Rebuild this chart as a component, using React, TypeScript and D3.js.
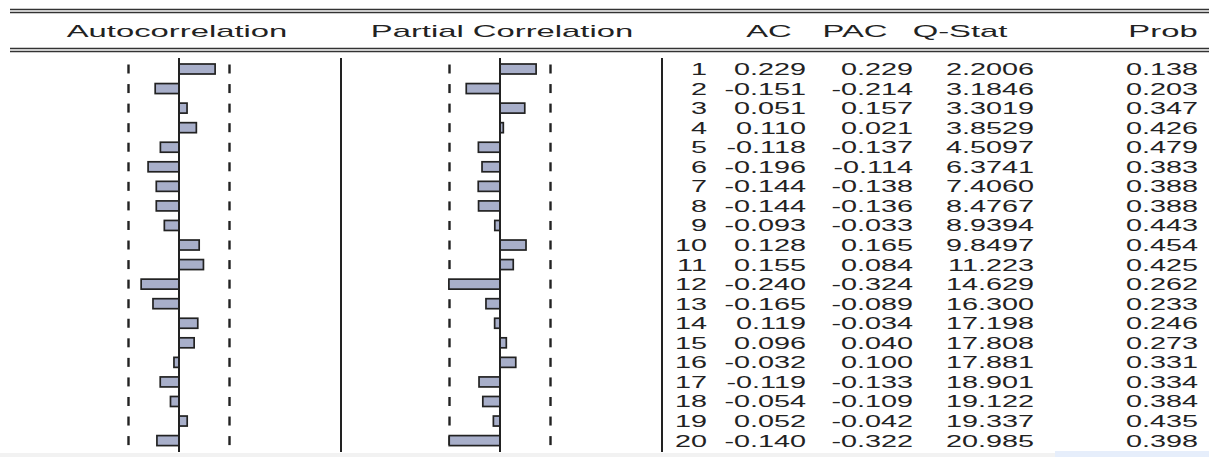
import React from "react";
import * as d3 from "d3";

// Correlogram of residuals: 20 lags, 39 observations
const lags = [1, 2, 3, 4, 5, 6, 7, 8, 9, 10, 11, 12, 13, 14, 15, 16, 17, 18, 19, 20];
const acValues = [0.229, -0.151, 0.051, 0.110, -0.118, -0.196, -0.144, -0.144, -0.093, 0.128, 0.155, -0.240, -0.165, 0.119, 0.096, -0.032, -0.119, -0.054, 0.052, -0.140];
const pacValues = [0.229, -0.214, 0.157, 0.021, -0.137, -0.114, -0.138, -0.136, -0.033, 0.165, 0.084, -0.324, -0.089, -0.034, 0.040, 0.100, -0.133, -0.109, -0.042, -0.322];
const qStatValues = [2.2006, 3.1846, 3.3019, 3.8529, 4.5097, 6.3741, 7.4060, 8.4767, 8.9394, 9.8497, 11.223, 14.629, 16.300, 17.198, 17.808, 17.881, 18.901, 19.122, 19.337, 20.985];
const probValues = [0.138, 0.203, 0.347, 0.426, 0.479, 0.383, 0.388, 0.388, 0.443, 0.454, 0.425, 0.262, 0.233, 0.246, 0.273, 0.331, 0.334, 0.384, 0.435, 0.398];
const nObs = 39;

const W = 1209;
const H = 457;
const FONT = "'Liberation Sans', Arial, sans-serif";
const INK = "#222";
const BAR_FILL = "#a8afca";

const band = 2 / Math.sqrt(nObs);

const yRow = d3.scaleLinear().domain([1, 20]).range([69, 440.6]);
const acScale = d3.scaleLinear().domain([-1, 1]).range([179 - 157.7, 179 + 157.7]);
const pacScale = d3.scaleLinear().domain([-1, 1]).range([500 - 157.7, 500 + 157.7]);

const fmt3 = (v: number) => v.toFixed(3);
const fmtQ = (v: number) => (v < 10 ? v.toFixed(4) : v.toFixed(3));

const NUM_SX = 1.8;
const HEAD_SX = 2.05;

function StretchText({ x, y, text, anchor, sx, size }: { x: number; y: number; text: string; anchor: "start" | "middle" | "end"; sx: number; size: number }) {
  return (
    <text
      transform={`translate(${x},${y}) scale(${sx},1)`}
      textAnchor={anchor}
      fontFamily={FONT}
      fontSize={size}
      fill={INK}
    >
      {text}
    </text>
  );
}

function BarPanel({ values, scale }: { values: number[]; scale: d3.ScaleLinear<number, number> }) {
  const x0 = scale(0);
  const barH = 10;
  return (
    <g>
      {lags.map((lag) => (
        <g key={"d" + lag}>
          <rect x={scale(-band) - 1.2} y={yRow(lag) - 4.5} width={2.4} height={9} fill={INK} />
          <rect x={scale(band) - 1.2} y={yRow(lag) - 4.5} width={2.4} height={9} fill={INK} />
        </g>
      ))}
      {values.map((v, i) => {
        const xv = scale(v);
        return (
          <rect
            key={"b" + i}
            x={Math.min(x0, xv)}
            y={yRow(lags[i]) - barH / 2}
            width={Math.abs(xv - x0)}
            height={barH}
            fill={BAR_FILL}
            stroke={INK}
            strokeWidth={1.7}
          />
        );
      })}
      <line x1={x0} x2={x0} y1={58} y2={452} stroke={INK} strokeWidth={2} />
    </g>
  );
}

export default function App() {
  const colRight = { lag: 707, ac: 806, pac: 913, q: 1034, prob: 1198 };
  return (
    <svg
      width={W}
      height={H}
      viewBox={`0 0 ${W} ${H}`}
      style={{ position: "absolute", left: 0, top: 0, background: "#fff" }}
    >
      <rect x={0} y={0} width={W} height={H} fill="#fff" />
      {/* header rules */}
      <line x1={10} x2={W} y1={9.5} y2={9.5} stroke="#333" strokeWidth={1.3} />
      <line x1={10} x2={W} y1={12.5} y2={12.5} stroke="#333" strokeWidth={1.3} />
      <line x1={10} x2={W} y1={48.5} y2={48.5} stroke="#333" strokeWidth={1.3} />
      <line x1={10} x2={W} y1={51.5} y2={51.5} stroke="#333" strokeWidth={1.3} />

      {/* column headers */}
      <StretchText x={177} y={37} text="Autocorrelation" anchor="middle" sx={HEAD_SX} size={16} />
      <StretchText x={502} y={37} text="Partial Correlation" anchor="middle" sx={HEAD_SX} size={16} />
      <StretchText x={769} y={37} text="AC" anchor="middle" sx={HEAD_SX} size={16} />
      <StretchText x={855} y={37} text="PAC" anchor="middle" sx={HEAD_SX} size={16} />
      <StretchText x={960} y={37} text="Q-Stat" anchor="middle" sx={HEAD_SX} size={16} />
      <StretchText x={1163} y={37} text="Prob" anchor="middle" sx={HEAD_SX} size={16} />

      <BarPanel values={acValues} scale={acScale} />
      <BarPanel values={pacValues} scale={pacScale} />

      {/* panel separators */}
      <line x1={341} x2={341} y1={58} y2={452} stroke={INK} strokeWidth={2} />
      <line x1={662} x2={662} y1={58} y2={452} stroke={INK} strokeWidth={2} />

      {/* statistics table */}
      {lags.map((lag, i) => {
        const y = yRow(lag) + 6;
        return (
          <g key={"r" + lag}>
            <StretchText x={colRight.lag} y={y} text={String(lag)} anchor="end" sx={NUM_SX} size={16} />
            <StretchText x={colRight.ac} y={y} text={fmt3(acValues[i])} anchor="end" sx={NUM_SX} size={16} />
            <StretchText x={colRight.pac} y={y} text={fmt3(pacValues[i])} anchor="end" sx={NUM_SX} size={16} />
            <StretchText x={colRight.q} y={y} text={fmtQ(qStatValues[i])} anchor="end" sx={NUM_SX} size={16} />
            <StretchText x={colRight.prob} y={y} text={fmt3(probValues[i])} anchor="end" sx={NUM_SX} size={16} />
          </g>
        );
      })}

      {/* bottom edge */}
      <rect x={0} y={453} width={W} height={4} fill="#f2f2f2" />
      <rect x={1055} y={451} width={154} height={6} fill="#e6eefb" />
    </svg>
  );
}
